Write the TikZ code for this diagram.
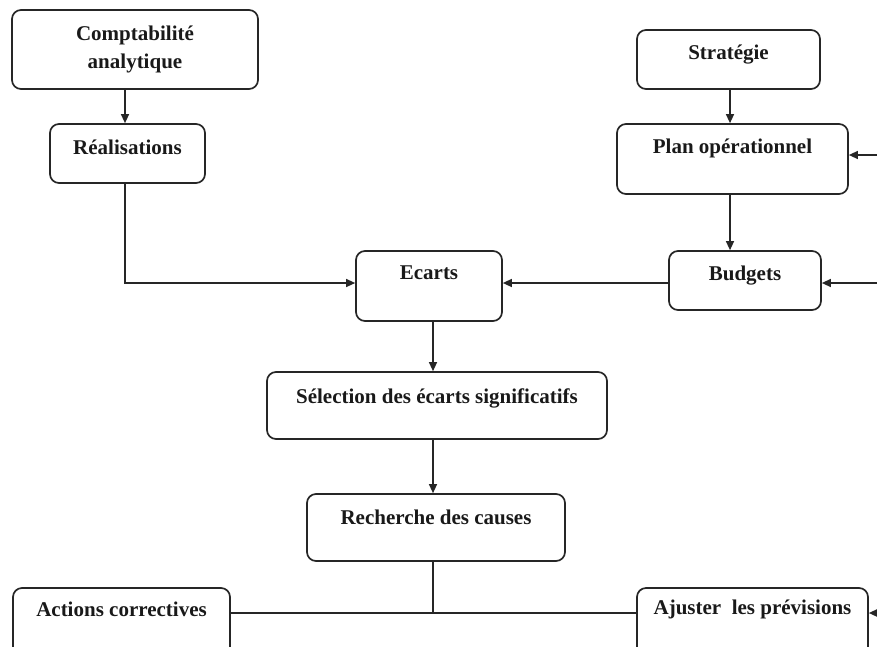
\documentclass[tikz,border=0pt]{standalone}
\usepackage{fontspec}
\setmainfont{Liberation Serif}
\usetikzlibrary{arrows.meta}
\begin{document}
\begin{tikzpicture}[x=1pt,y=-1pt,
  box/.style={draw=black!85, line width=1.7pt, rounded corners=9pt, rectangle, inner sep=0pt},
  lbl/.style={anchor=base, inner sep=0pt, text=black!90, font=\fontsize{21}{26}\selectfont\bfseries},
  link/.style={line width=1.3pt, draw=black!85},
  arr/.style={link, -{Triangle[length=9pt,width=8pt]}}]

\useasboundingbox (0,0) rectangle (877,646);

% guide columns and rows for the connectors
\coordinate (colL) at (125,0);
\coordinate (colM) at (433,0);
\coordinate (colR) at (730,0);
\coordinate (rowP) at (0,155);
\coordinate (rowE) at (0,283);
\coordinate (rowB) at (0,613);
\coordinate (edge) at (877,0);

% boxes
\node[box, minimum width=246pt, minimum height=79pt] (compta) at (135,49.5) {};
\node[box, minimum width=155pt, minimum height=59pt] (real) at (127.5,153.5) {};
\node[box, minimum width=183pt, minimum height=59pt] (strat) at (728.5,59.5) {};
\node[box, minimum width=231pt, minimum height=70pt] (plan) at (732.5,159) {};
\node[box, minimum width=152pt, minimum height=59pt] (budget) at (745,280.5) {};
\node[box, minimum width=146pt, minimum height=70pt] (ecarts) at (429,286) {};
\node[box, minimum width=340pt, minimum height=67pt] (selec) at (437,405.5) {};
\node[box, minimum width=258pt, minimum height=67pt] (rech) at (436,527.5) {};
\node[box, minimum width=217pt, minimum height=80pt] (actions) at (121.5,628) {};
\node[box, minimum width=231pt, minimum height=80pt] (ajust) at (752.5,628) {};

% labels
\node[lbl] (comptaA) at (135,40.7) {Comptabilité};
\node[lbl] (comptaB) at (135,68) {analytique};
\node[lbl] (realT) at (127.5,154) {Réalisations};
\node[lbl] (stratT) at (728.5,59) {Stratégie};
\node[lbl] (planT) at (732.5,153) {Plan opérationnel};
\node[lbl] (budgetT) at (745,280) {Budgets};
\node[lbl] (ecartsT) at (429,279) {Ecarts};
\node[lbl] (selecT) at (437,403) {Sélection des écarts significatifs};
\node[lbl] (rechT) at (436,524) {Recherche des causes};
\node[lbl] (actionsT) at (121.5,616) {Actions correctives};
\node[lbl] (ajustT) at (752.5,614) {Ajuster\ \ les prévisions};

% connectors
\draw[arr] (compta.south -| colL) -- (real.north -| colL);
\draw[arr] (real.south -| colL) |- (ecarts.west |- rowE);
\draw[arr] (strat.south -| colR) -- (plan.north -| colR);
\draw[arr] (plan.south -| colR) -- (budget.north -| colR);
\draw[arr] (budget.west |- rowE) -- (ecarts.east |- rowE);
\draw[arr] (edge |- rowP) -- (plan.east |- rowP);
\draw[arr] (edge |- rowE) -- (budget.east |- rowE);
\draw[arr] (edge |- rowB) -- (ajust.east |- rowB);
\draw[arr] (ecarts.south -| colM) -- (selec.north -| colM);
\draw[arr] (selec.south -| colM) -- (rech.north -| colM);
\draw[link] (rech.south -| colM) -- (colM |- rowB);
\draw[link] (actions.east |- rowB) -- (ajust.west |- rowB);
\end{tikzpicture}
\end{document}
